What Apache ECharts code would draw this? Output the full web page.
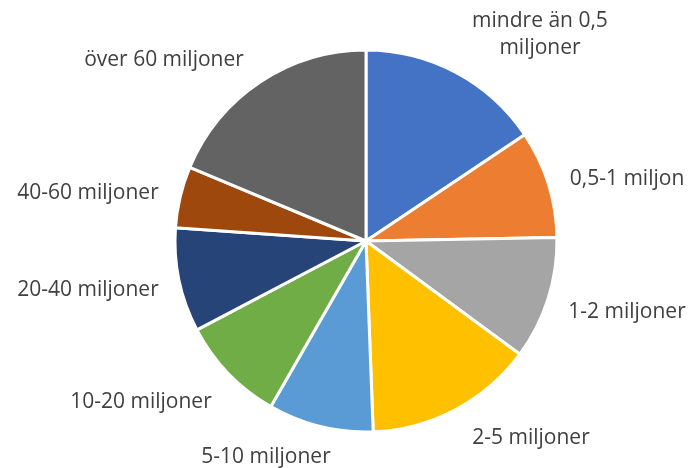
<!DOCTYPE html>
<html>
<head>
<meta charset="utf-8">
<script src="https://cdn.jsdelivr.net/npm/echarts@6/dist/echarts.min.js"></script>
<style>html,body{margin:0;padding:0;background:#fff;}#c{width:692px;height:468px;}</style>
</head>
<body>
<div id="c"></div>
<script>
const categories = ['mindre än 0,5\nmiljoner','0,5-1 miljon','1-2 miljoner','2-5 miljoner','5-10 miljoner','10-20 miljoner','20-40 miljoner','40-60 miljoner','över 60 miljoner'];
const values = [15.6, 9.1, 10.4, 14.3, 8.9, 9.0, 8.8, 5.2, 18.7];
const colors = ['#4472C4','#ED7D31','#A5A5A5','#FFC000','#5B9BD5','#70AD47','#264478','#9E480E','#636363'];
const labelPos = [[540,35],[627,179],[627,312],[531,438],[266,457],[141,402],[88,290],[88,193],[164,60]];

const chart = echarts.init(document.getElementById('c'));
chart.setOption({
  animation: false,
  series: [{
    type: 'pie',
    center: [366, 241],
    radius: 191,
    startAngle: 90,
    clockwise: true,
    data: categories.map((n, i) => ({name: n, value: values[i], itemStyle: {color: colors[i]}})),
    itemStyle: {borderColor: '#fff', borderWidth: 3},
    label: {
      show: true, position: 'outside', formatter: '{b}',
      fontFamily: 'Open Sans', fontSize: 21, color: '#404040', lineHeight: 27, align: 'center',
      overflow: 'none', width: 300
    },
    labelLine: {show: false},
    labelLayout: function (p) {
      const pos = labelPos[p.dataIndex];
      return {x: pos[0], y: pos[1], align: 'center', verticalAlign: 'middle'};
    },
    emphasis: {disabled: true}
  }]
});
</script>
</body>
</html>
